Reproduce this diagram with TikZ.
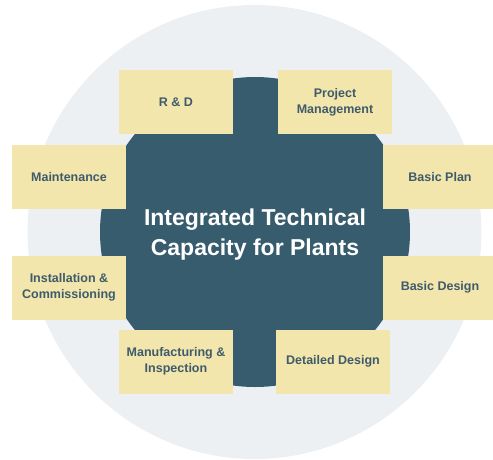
\documentclass[tikz,border=0pt]{standalone}
\usepackage{fontspec}
\setmainfont{Liberation Sans}
\definecolor{ring}{HTML}{EDF0F3}
\definecolor{core}{HTML}{375C6E}
\definecolor{card}{HTML}{F2E6AC}
\definecolor{cardtext}{HTML}{3F5B6B}
\tikzset{card/.style={fill=card,text=cardtext,minimum width=114pt,minimum height=64pt,
  inner sep=0pt,align=center,font=\bfseries\fontsize{12.5}{16}\selectfont}}

\begin{document}
\begin{tikzpicture}[x=1pt,y=-1pt]
            \useasboundingbox (0,0) rectangle (493,459);
            \fill[ring] (254.5,232) circle (227pt);
            \fill[core] (255,232) circle (155pt);
            \foreach \n/\x/\y/\t in {rd/176/102/R \& D, pm/335/102/Project\\Management,
                mt/69/177/Maintenance, bp/440/177/Basic Plan,
                ic/69/287.5/Installation \&\\Commissioning, bd/440/287.5/Basic Design,
                mi/176/361.5/Manufacturing \&\\Inspection, dd/333/361.5/Detailed Design}{
                \node[card] (\n) at (\x,\y) {\t};
            }
            \node[text=white,align=center,font=\bfseries\fontsize{23}{30}\selectfont] (title) at (255,234.5) {Integrated Technical\\Capacity for Plants};
        \end{tikzpicture}
\end{document}
